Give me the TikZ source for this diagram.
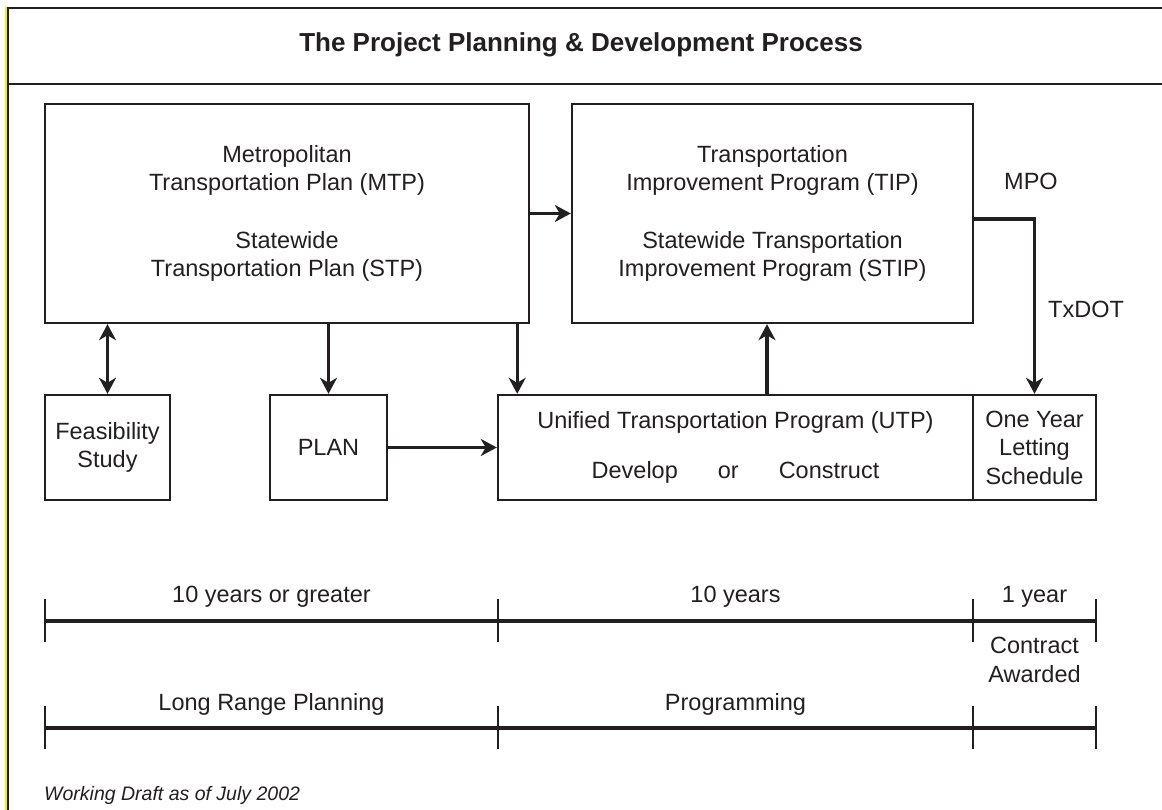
\documentclass[tikz,border=0pt]{standalone}
\usepackage{fontspec}
\setmainfont{Liberation Sans}
\usetikzlibrary{arrows.meta}
\definecolor{ink}{HTML}{231F20}
\definecolor{frameyellow}{HTML}{F2EE1E}
\begin{document}
\begin{tikzpicture}[x=1pt,y=-1pt,
  txt/.style={text=ink, inner sep=0pt, font=\fontsize{23.5}{28.5}\selectfont},
  box/.style={txt, draw=ink, line width=2.4pt, rectangle, align=center},
  arr/.style={draw=ink, line width=3.3pt, -{Stealth[length=16pt,width=17pt,inset=5pt]}},
  dbl/.style={draw=ink, line width=3.3pt, {Stealth[length=16pt,width=17pt,inset=5pt]}-{Stealth[length=16pt,width=17pt,inset=5pt]}},
  frameline/.style={draw=ink, line width=2.6pt},
  tl/.style={draw=ink, line width=3.1pt},
  tick/.style={draw=ink, line width=2.7pt}
]
\useasboundingbox (0,0) rectangle (1162,810);
\fill[white] (0,0) rectangle (1162,810);
% frame
\draw[draw=frameyellow, line width=2pt] (5.6,7) -- (5.6,810);
\draw[frameline] (8,7) -- (8,810);
\draw[frameline] (6.7,8) -- (1162,8);
\draw[frameline] (6.7,84) -- (1162,84);
\node[txt, anchor=base, font=\fontsize{26}{30}\bfseries] (title) at (581,52) {The Project Planning \& Development Process};

% boxes
\node[box, minimum width=484pt, minimum height=219pt] (mtp) at (287,213.5)
  {Metropolitan\\Transportation Plan (MTP)\\[29pt]Statewide\\Transportation Plan (STP)};
\node[box, minimum width=401pt, minimum height=219pt] (tip) at (772.5,213.5)
  {Transportation\\Improvement Program (TIP)\\[29pt]Statewide Transportation\\Improvement Program (STIP)};
\node[box, minimum width=125pt, minimum height=105pt] (feas) at (107.5,447.5)
  {Feasibility\\Study};
\node[box, minimum width=117pt, minimum height=105pt] (plan) at (328.5,447.5) {PLAN};
\node[box, minimum width=475pt, minimum height=105pt] (utp) at (735.5,447.5)
  {Unified Transportation Program (UTP)\\[21.5pt]Develop\hspace{40pt}or\hspace{40pt}Construct};
\node[box, minimum width=123pt, minimum height=105pt] (one) at (1034.5,447.5)
  {One Year\\Letting\\Schedule};

% connectors
\draw[dbl] (feas.north |- mtp.south) -- (feas.north);
\draw[arr] (plan.north |- mtp.south) -- (plan.north);
\draw[arr] ([xshift=-13pt]mtp.south east) -- ([xshift=-13pt]mtp.south east |- utp.north);
\draw[arr] (mtp.east) -- (mtp.east -| tip.west);
\draw[arr] ([xshift=-5.5pt]tip.south |- utp.north) -- ([xshift=-5.5pt]tip.south);
\draw[arr] ([yshift=-5.5pt]tip.east) -| (one.north);
\draw[arr] (plan.east) -- (utp.west);
\node[txt, anchor=base west] (mpo) at (1004,190) {MPO};
\node[txt, anchor=base west] (txdot) at (1048,318) {TxDOT};

% timelines
\draw[tl] (45,621) -- (1096,621);
\draw[tl] (45,728) -- (1096,728);
\foreach \x in {45,498,973,1096} {
  \draw[tick] (\x,599) -- (\x,642);
  \draw[tick] (\x,706) -- (\x,749);
}
\node[txt, anchor=base] (r1) at (271.5,602) {10 years or greater};
\node[txt, anchor=base] (r2) at (735.5,602) {10 years};
\node[txt, anchor=base] (r3) at (1034.5,602) {1 year};
\node[txt, anchor=base] (p1) at (271.5,710) {Long Range Planning};
\node[txt, anchor=base] (p2) at (735.5,710) {Programming};
\node[txt, anchor=base, align=center] (p3) at (1034.5,682) {Contract\\Awarded};
\node[txt, anchor=base west, font=\fontsize{19.5}{22}\itshape] (note) at (44,800) {Working Draft as of July 2002};
\end{tikzpicture}
\end{document}
